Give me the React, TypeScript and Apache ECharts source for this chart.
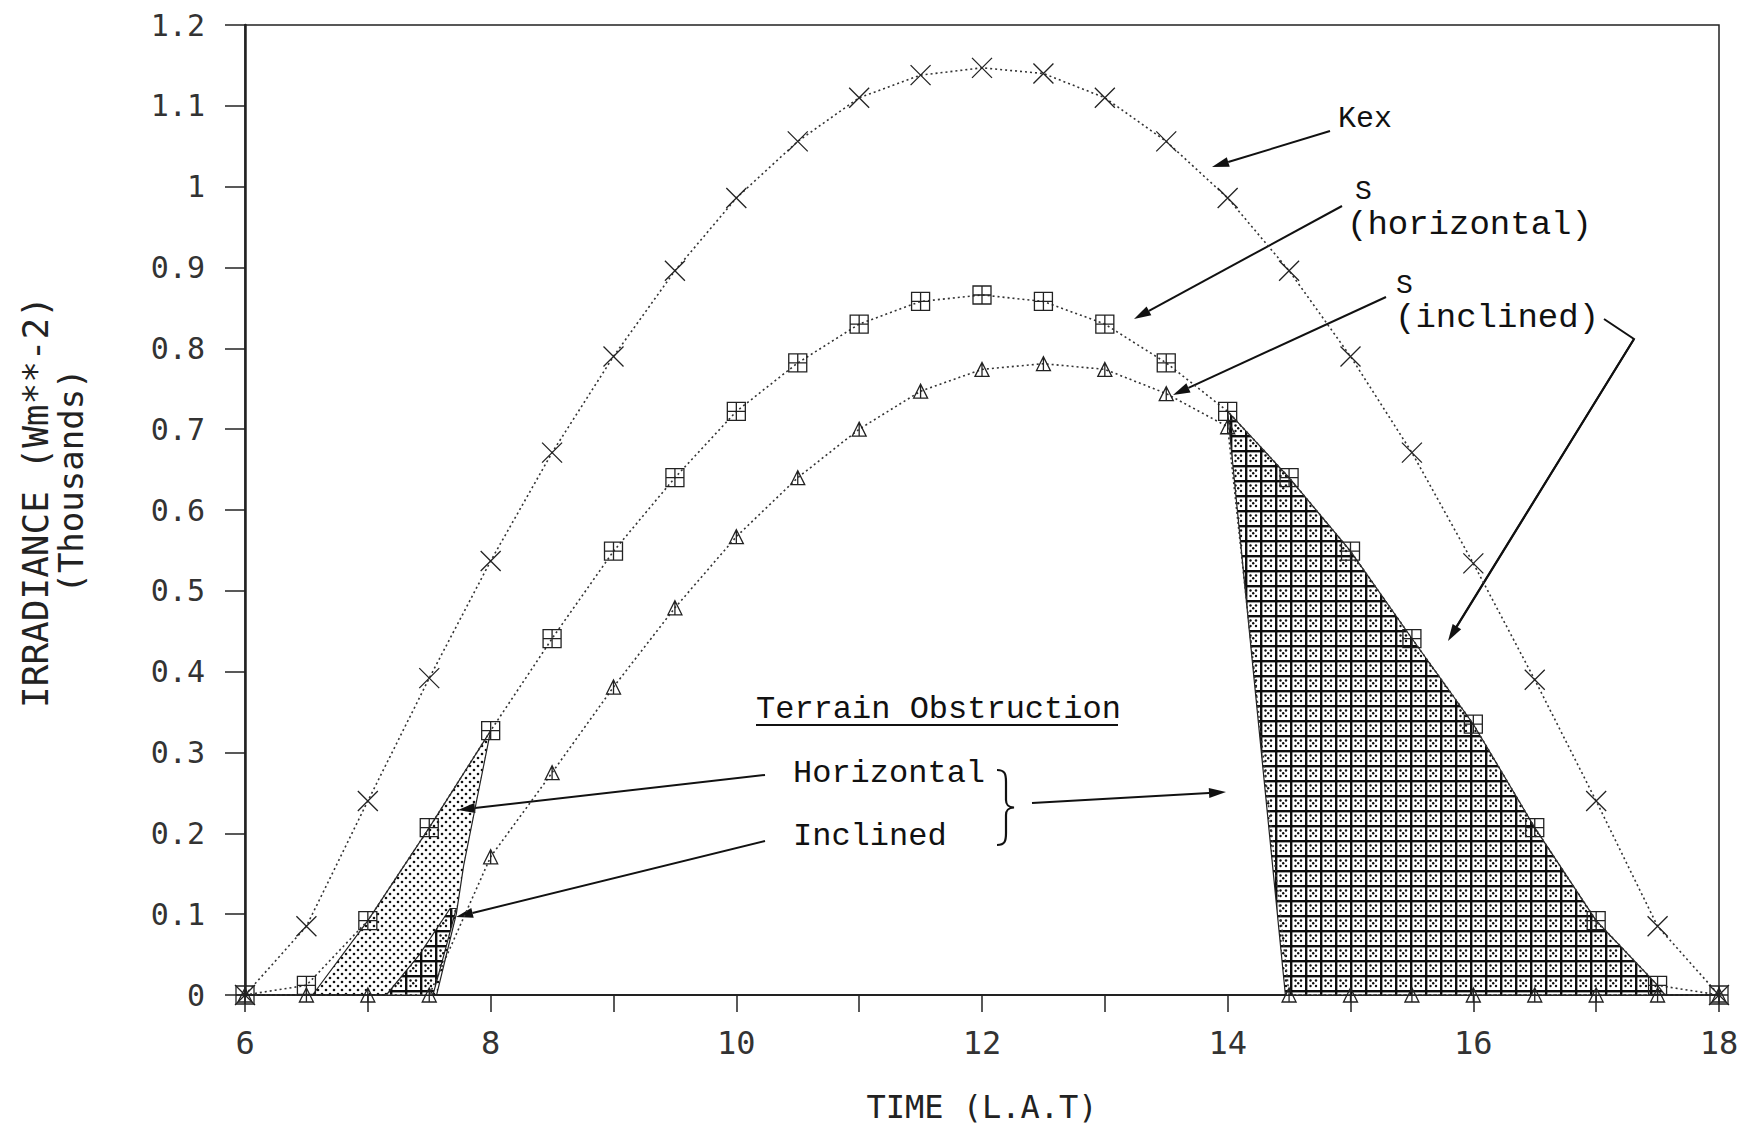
import React, { useEffect, useRef } from "react";
import * as echarts from "echarts";

// ---- data ----
const HOURS = [6, 6.5, 7, 7.5, 8, 8.5, 9, 9.5, 10, 10.5, 11, 11.5, 12, 12.5, 13, 13.5, 14, 14.5, 15, 15.5, 16, 16.5, 17, 17.5, 18];
const KEX = [0, 0.085, 0.24, 0.392, 0.537, 0.671, 0.79, 0.896, 0.986, 1.056, 1.11, 1.138, 1.147, 1.14, 1.11, 1.056, 0.986, 0.896, 0.79, 0.671, 0.534, 0.39, 0.24, 0.085, 0];
const S_HORIZ = [0, 0.012, 0.092, 0.207, 0.327, 0.441, 0.549, 0.64, 0.722, 0.782, 0.83, 0.858, 0.866, 0.858, 0.83, 0.782, 0.722, 0.64, 0.549, 0.441, 0.335, 0.207, 0.092, 0.012, 0];
const S_INCL = [0, 0, 0, 0, 0.171, 0.275, 0.381, 0.479, 0.567, 0.64, 0.7, 0.747, 0.774, 0.781, 0.774, 0.744, 0.703, 0, 0, 0, 0, 0, 0, 0, 0];

// terrain obstruction regions [time, irradiance]
const HORIZ_OBS_MORNING = [[6.55, 0], [7, 0.092], [7.5, 0.207], [8, 0.327], [7.885, 0.24], [7.78, 0.16], [7.72, 0.1], [7.56, 0]];
const INCL_OBS_MORNING = [[7.15, 0], [7.53, 0], [7.62, 0.05], [7.72, 0.107], [7.67, 0.107], [7.42, 0.05]];
const OBS_AFTERNOON = [[14.0, 0.722], [14.5, 0.64], [15, 0.549], [15.5, 0.441], [16, 0.335], [16.5, 0.207], [17, 0.092], [17.5, 0.012], [17.56, 0], [14.47, 0], [14.02, 0.69]];

const X_MIN = 6, X_MAX = 18, Y_MIN = 0, Y_MAX = 1.2;

const BRACE_D = "M0 0 C8 0 9 4 9 12 L9 30 C9 35 11 37 17 37.5 C11 38 9 40 9 45 L9 63 C9 71 8 75 0 75";
echarts.graphic.registerShape("brace", echarts.graphic.extendPath(BRACE_D, {}));

const MONO = '"Liberation Mono", "Courier New", monospace';
const PLOT = '"DejaVu Sans Mono", monospace';

function makeDots() {
  const c = document.createElement("canvas");
  c.width = 8; c.height = 8;
  const g = c.getContext("2d")!;
  g.fillStyle = "#111";
  [[2, 2], [6, 6]].forEach(([x, y]) => { g.beginPath(); g.arc(x, y, 1.3, 0, Math.PI * 2); g.fill(); });
  return { image: c.toDataURL(), repeat: "repeat", imageWidth: 8, imageHeight: 8 };
}

function makeGridDots() {
  const s = 15;
  const c = document.createElement("canvas");
  c.width = s; c.height = s;
  const g = c.getContext("2d")!;
  g.fillStyle = "#ffffff";
  g.fillRect(0, 0, s, s);
  g.fillStyle = "#0d0d0d";
  g.fillRect(0, 0, s, 2.4);
  g.fillRect(0, 0, 2.4, s);
  [[5.5, 5.5], [11, 5.5], [8.2, 8.2], [5.5, 11], [11, 11]].forEach(([x, y]) => { g.beginPath(); g.arc(x, y, 1.2, 0, Math.PI * 2); g.fill(); });
  return { image: c.toDataURL(), repeat: "repeat", imageWidth: s, imageHeight: s };
}

function arrow(x1: number, y1: number, x2: number, y2: number, w = 2) {
  const dx = x2 - x1, dy = y2 - y1;
  const L = Math.hypot(dx, dy);
  const ux = dx / L, uy = dy / L;
  const hl = 17, hw = 5;
  const bx = x2 - ux * hl, by = y2 - uy * hl;
  return [
    { type: "line", shape: { x1, y1, x2: bx, y2: by }, style: { stroke: "#111", lineWidth: w } },
    { type: "polygon", shape: { points: [[x2, y2], [bx - uy * hw, by + ux * hw], [bx + uy * hw, by - ux * hw]] }, style: { fill: "#111" } },
  ];
}

function txt(x: number, y: number, text: string, size: number) {
  return { type: "text", x, y, style: { text, fontFamily: MONO, fontSize: size, fill: "#111", verticalAlign: "middle", align: "left" } };
}

export default function App() {
  const ref = useRef<HTMLDivElement>(null);
  useEffect(() => {
    document.body.style.margin = "0";
    document.body.style.overflow = "hidden";
    const chart = echarts.init(ref.current!, null, { renderer: "svg" });
    const dots = makeDots();
    const gridDots = makeGridDots();

    const polySeries = (pts: number[][], fill: any, z: number) => ({
      type: "custom",
      data: pts,
      encode: { x: 0, y: 1 },
      z,
      silent: true,
      renderItem: (params: any, api: any) => {
        if (params.dataIndex !== 0) return null;
        return {
          type: "polygon",
          shape: { points: pts.map((p) => api.coord(p)) },
          style: { fill, stroke: "#222", lineWidth: 1.2 },
        };
      },
    });

    const lineSeries = (vals: number[], symbol: string, size: number, z: number) => ({
      type: "line",
      data: HOURS.map((h, i) => [h, vals[i]]),
      symbol,
      symbolSize: size,
      z,
      itemStyle: { color: "rgba(0,0,0,0)", borderColor: "#222", borderWidth: 1.3 },
      lineStyle: { color: "#333", width: 1.6, type: [2, 3] },
    });

    const graphic: any[] = [
      txt(1338, 119, "Kex", 30),
      txt(1355, 191, "S", 28),
      txt(1347, 225, "(horizontal)", 34),
      txt(1396, 285, "S", 28),
      txt(1395, 318, "(inclined)", 34),
      txt(756, 709, "Terrain Obstruction", 32),
      { type: "line", shape: { x1: 756, y1: 725, x2: 1118, y2: 725 }, style: { stroke: "#111", lineWidth: 2 } },
      txt(793, 773, "Horizontal", 32),
      txt(793, 836, "Inclined", 32),
      { type: "brace", x: 997, y: 770, style: { fill: "none", stroke: "#111", lineWidth: 2.2 } },
      ...arrow(1330, 131, 1212, 167),
      ...arrow(1342, 206, 1134, 319),
      ...arrow(1386, 297, 1173, 395),
      { type: "polyline", shape: { points: [[1604, 319], [1634, 339], [1455, 629]] }, style: { stroke: "#111", lineWidth: 2, fill: "none" } },
      ...arrow(1634, 339, 1448, 641),
      ...arrow(765, 775, 458, 810),
      ...arrow(765, 841, 456, 917),
      ...arrow(1032, 803, 1226, 792),
      {
        type: "text", x: 35, y: 502, rotation: Math.PI / 2,
        style: { text: "IRRADIANCE (Wm**-2)", fontFamily: PLOT, fontSize: 36, fill: "#222", align: "center", verticalAlign: "middle" },
      },
      {
        type: "text", x: 71, y: 481, rotation: Math.PI / 2,
        style: { text: "(Thousands)", fontFamily: PLOT, fontSize: 34, fill: "#222", align: "center", verticalAlign: "middle" },
      },
    ];

    chart.setOption({
      animation: false,
      backgroundColor: "#ffffff",
      grid: { left: 245, right: 24, top: 25, bottom: 131, show: true, borderColor: "#222", borderWidth: 1.5, backgroundColor: "transparent" },
      xAxis: {
        type: "value",
        min: X_MIN,
        max: X_MAX,
        interval: 1,
        name: "TIME (L.A.T)",
        nameLocation: "middle",
        nameGap: 96,
        nameTextStyle: { fontFamily: PLOT, fontSize: 32, color: "#222" },
        axisLine: { onZero: false, lineStyle: { color: "#222", width: 2 } },
        axisTick: { length: 17, lineStyle: { color: "#222", width: 1.5 } },
        axisLabel: {
          margin: 32,
          fontFamily: PLOT,
          fontSize: 32,
          color: "#333",
          formatter: (v: number) => (Math.round(v) % 2 === 0 ? String(Math.round(v)) : ""),
        },
        splitLine: { show: false },
      },
      yAxis: {
        type: "value",
        min: Y_MIN,
        max: Y_MAX,
        interval: 0.1,
        axisLine: { show: true, lineStyle: { color: "#222", width: 2.5 } },
        axisTick: { show: true, length: 20, lineStyle: { color: "#222", width: 1.5 } },
        axisLabel: {
          margin: 40,
          fontFamily: PLOT,
          fontSize: 30,
          color: "#333",
          formatter: (v: number) => String(+v.toFixed(1)),
        },
        splitLine: { show: false },
      },
      series: [
        polySeries(HORIZ_OBS_MORNING, dots, 1),
        polySeries(OBS_AFTERNOON, gridDots, 1),
        polySeries(INCL_OBS_MORNING, gridDots, 2),
        lineSeries(KEX, "path://M0 0L10 10M10 0L0 10", 20, 5),
        lineSeries(S_HORIZ, "path://M0 0H10V10H0Z M5 0V10 M0 5H10", 18, 5),
        lineSeries(S_INCL, "path://M0 10L5 0L10 10Z M5 0V10", 14, 5),
      ],
      graphic,
    });
    return () => chart.dispose();
  }, []);
  return <div ref={ref} style={{ width: 1743, height: 1128 }} />;
}
